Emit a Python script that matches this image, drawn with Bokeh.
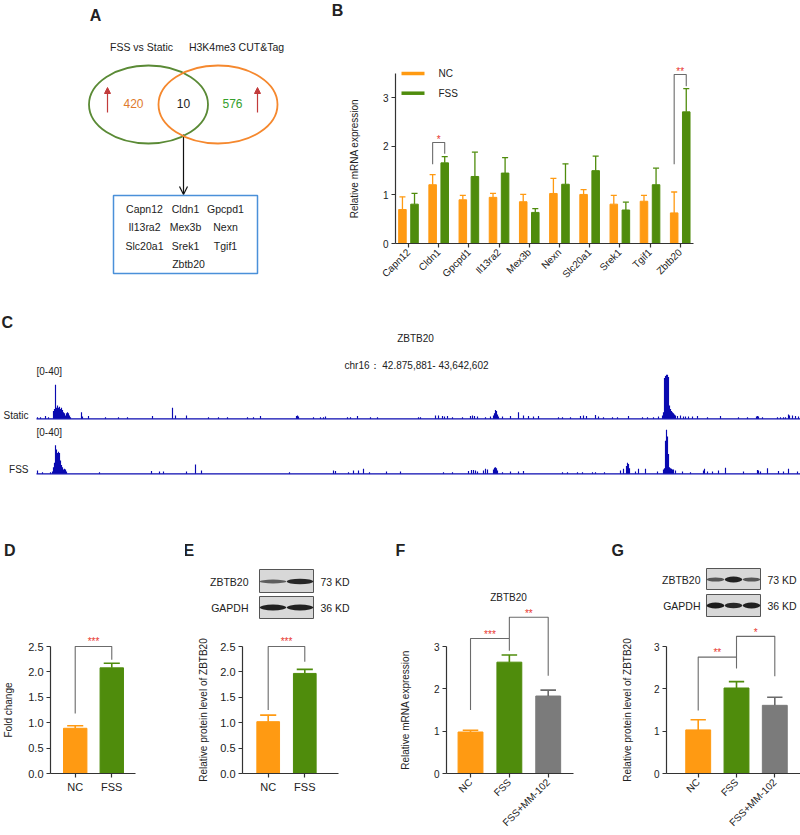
import math
from bokeh.plotting import figure
from bokeh.models import (Range1d, Arrow, NormalHead, OpenHead,
                          FixedTicker, PrintfTickFormatter)
from bokeh.core.properties import value
from bokeh.layouts import row, column
from bokeh.embed import file_html
from bokeh.resources import INLINE

# ---------------- data ----------------
venn_set_names = ["FSS vs Static", "H3K4me3 CUT&Tag"]
venn_counts = [420, 10, 576]            # left only, overlap, right only
overlap_genes = ["Capn12", "Cldn1", "Gpcpd1", "Il13ra2", "Mex3b",
                 "Nexn", "Slc20a1", "Srek1", "Tgif1", "Zbtb20"]

qpcr_genes = ["Capn12", "Cldn1", "Gpcpd1", "Il13ra2", "Mex3b",
              "Nexn", "Slc20a1", "Srek1", "Tgif1", "Zbtb20"]
qpcr_nc_mean = [0.70, 1.21, 0.90, 0.95, 0.86, 1.03, 1.01, 0.81, 0.87, 0.63]
qpcr_nc_sd = [0.26, 0.21, 0.09, 0.08, 0.15, 0.31, 0.10, 0.18, 0.12, 0.43]
qpcr_fss_mean = [0.81, 1.66, 1.38, 1.45, 0.64, 1.22, 1.50, 0.69, 1.21, 2.71]
qpcr_fss_sd = [0.22, 0.13, 0.50, 0.32, 0.08, 0.42, 0.30, 0.16, 0.34, 0.48]
qpcr_sig_genes = ["Cldn1", "Zbtb20"]
qpcr_sig_marks = ["*", "**"]

track_gene = "ZBTB20"
track_locus = "chr16\uff1a 42.875,881- 43,642,602"
track_start = 42875881
track_end = 43642602
track_scale = "[0-40]"
# (offset in kb from region start, signal on the [0-40] scale)
static_peaks = [(1, 1.5), (4, 1.5), (9, 2.5), (12, 1.5), (17, 7), (18, 9), (19, 31), (20, 10),
                (21, 12), (22, 10), (23, 11), (24, 9), (25, 10), (26, 8), (27, 6), (28, 5), (29, 3),
                (30, 5), (31, 6), (32, 5), (33, 3), (34, 1.5), (45, 6), (46, 2), (52, 2.5), (69, 1.5),
                (82, 1.5), (91, 1.5), (116, 2.5), (136, 10), (139, 3), (150, 3), (172, 1.5), (182, 1.5),
                (191, 1.5), (211, 1.5), (217, 1.5), (224, 2.5), (260, 2.5), (261, 3), (262, 2), (277, 1.5),
                (284, 1.5), (287, 1.5), (289, 2), (311, 1.5), (314, 1.5), (321, 2.5), (334, 1.5), (341, 1.5),
                (382, 1.5), (384, 1.5), (399, 3), (402, 3), (406, 2.5), (408, 2), (411, 2.5), (416, 1.5),
                (426, 1.5), (434, 2.5), (436, 3), (438, 2.5), (441, 2), (449, 1.5), (454, 2), (457, 3),
                (458, 5), (459, 8), (460, 7), (461, 4), (462, 2), (466, 2), (474, 2.5), (482, 6), (487, 3),
                (492, 2.5), (497, 2), (502, 2.5), (522, 1.5), (526, 1.5), (534, 1.5), (544, 2.5), (547, 3),
                (550, 2.5), (559, 3.5), (562, 2), (567, 1.5), (576, 1.5), (581, 1.5), (592, 2.5), (606, 1.5),
                (611, 1.5), (617, 1.5), (622, 2), (626, 3), (627, 6), (628, 37), (629, 39), (630, 40),
                (631, 40), (632, 38), (633, 12), (634, 9), (635, 7), (636, 6), (637, 5), (638, 4), (639, 3),
                (641, 2.5), (644, 3), (647, 2), (649, 2), (652, 2), (656, 2), (661, 2.5), (671, 1.5),
                (684, 2.5), (702, 1.5), (711, 1.5), (720, 2), (721, 2.5), (722, 2), (726, 1.5), (741, 1.5),
                (744, 1.5), (747, 1.5), (749, 1.5), (752, 4), (753, 3), (756, 3), (759, 2.5), (762, 2)]
fss_peaks = [(1, 3), (6, 1.5), (14, 1.5), (16, 2), (17, 6), (18, 10), (19, 26), (20, 22), (21, 19),
             (22, 20), (23, 19), (24, 12), (25, 8), (26, 6), (27, 4), (28, 4.5), (29, 4), (30, 2),
             (63, 1.5), (115, 2.5), (123, 2), (127, 2), (150, 2), (159, 8.5), (165, 3), (253, 1.5),
             (297, 3), (299, 2.5), (312, 1.5), (317, 3), (322, 3), (327, 4.5), (333, 1.5), (350, 2),
             (364, 2), (407, 1.5), (416, 1.5), (432, 2.5), (435, 3.5), (437, 3.5), (439, 3), (441, 2),
             (447, 3), (449, 4.5), (451, 4), (457, 4), (458, 5.5), (459, 6), (460, 5), (461, 3),
             (466, 1.5), (474, 2), (482, 2), (487, 2.5), (526, 1.5), (531, 1.5), (541, 1.5), (546, 1.5),
             (556, 1.5), (559, 1.5), (568, 1.5), (584, 3), (587, 4.5), (590, 7), (591, 10), (592, 9),
             (593, 5), (599, 2), (602, 4.5), (609, 4.5), (621, 2), (627, 4), (628, 5), (629, 30),
             (630, 40), (631, 34), (632, 18), (633, 6), (634, 5), (635, 4.5), (636, 4), (637, 4),
             (639, 3), (646, 2), (654, 1.5), (667, 3), (668, 4.5), (671, 2), (676, 2), (682, 3),
             (689, 5.5), (707, 2), (721, 3.5), (722, 3), (724, 2), (731, 5), (742, 2.5), (747, 2),
             (752, 4.5), (761, 2)]

d_groups = ["NC", "FSS"]
d_mean = [0.89, 2.08]
d_sd = [0.05, 0.09]

e_groups = ["NC", "FSS"]
e_mean = [1.02, 1.97]
e_sd = [0.13, 0.08]
e_blot_zbtb20 = [0.45, 0.9]
e_blot_gapdh = [0.95, 0.95]

f_groups = ["NC", "FSS", "FSS+MM-102"]
f_mean = [0.98, 2.63, 1.83]
f_sd = [0.04, 0.17, 0.14]

g_groups = ["NC", "FSS", "FSS+MM-102"]
g_mean = [1.03, 2.02, 1.61]
g_sd = [0.24, 0.15, 0.19]
g_blot_zbtb20 = [0.5, 0.95, 0.5]
g_blot_gapdh = [1.0, 0.9, 0.95]

# ---------------- style ----------------
FONT = "Liberation Sans"
TXT = "#222222"
AX = "#333333"
ORANGE = "#ff9a12"
GREEN = "#4f8c0c"
GRAY = "#7b7b7b"
RED = "#e8362e"
BRK = "#6b6b6b"
TRACK = "#0a0ab0"
VENN_GREEN = "#5a8a35"
VENN_ORANGE = "#f5882e"
ARROW_RED = "#c23b3b"
OV = "overlay"


def new_fig(w, h, l, r, t, b, xr, yr, box, axes=True):
    kw = {} if axes else dict(x_axis_location=None, y_axis_location=None)
    p = figure(width=w, height=h, x_range=xr, y_range=yr,
               min_border_left=l, min_border_right=r, min_border_top=t, min_border_bottom=b,
               output_backend="svg", toolbar_location=None, tools="", **kw)
    p.xgrid.grid_line_color = None
    p.ygrid.grid_line_color = None
    p.outline_line_color = None
    x0, x1, y0, y1 = box
    p.extra_x_ranges = {"px": Range1d(x0, x1)}
    p.extra_y_ranges = {"px": Range1d(y1, y0)}
    return p


def txt(p, x, y, s, size=10.0, align="center", baseline="middle", color=TXT, bold=False, rng="px"):
    kw = dict(x_range_name=rng, y_range_name=rng) if rng else {}
    p.text(x=[x], y=[y], text=[s], text_font=value(FONT), text_font_size=f"{size}px",
           text_align=align, text_baseline=baseline, text_color=color,
           text_font_style="bold" if bold else "normal", level=OV, **kw)


def style_axes(p, tick_font, label_font, label_standoff):
    for ax in p.axis:
        ax.axis_line_color = AX
        ax.axis_line_width = 1.2
        ax.major_tick_line_color = AX
        ax.major_tick_line_width = 1.2
        ax.major_tick_out = 4
        ax.major_tick_in = 0
        ax.minor_tick_line_color = None
        ax.major_label_text_font = FONT
        ax.major_label_text_font_size = f"{tick_font}px"
        ax.major_label_text_color = TXT
        ax.major_label_standoff = 3
        ax.axis_label_text_font = FONT
        ax.axis_label_text_font_size = f"{label_font}px"
        ax.axis_label_text_font_style = "normal"
        ax.axis_label_text_color = TXT
        ax.axis_label_standoff = label_standoff


def errbars(p, xs, means, sds, color, cap, lw):
    tops = [m + s for m, s in zip(means, sds)]
    p.segment(x0=xs, y0=means, x1=xs, y1=tops, line_color=color, line_width=lw)
    p.segment(x0=[x - cap for x in xs], y0=tops, x1=[x + cap for x in xs], y1=tops,
              line_color=color, line_width=lw)


def bracket(p, xa, ya, xb, yb, ytop, mark, mark_y, size=10):
    p.line(x=[xa, xa, xb, xb], y=[ya, ytop, ytop, yb], line_color=BRK, line_width=1.1, level=OV)
    txt(p, (xa + xb) / 2, mark_y, mark, size, color=RED, rng=None)


def bar_panel(p, groups, means, sds, colors, errc, bar_w, cap):
    xs = list(range(len(groups)))
    p.vbar(x=xs, top=means, width=bar_w, bottom=0, fill_color=colors, line_color=colors)
    errbars(p, xs, means, sds, errc, cap, 1.6)
    p.xaxis.ticker = FixedTicker(ticks=xs)
    p.xaxis.major_label_overrides = {x: g for x, g in zip(xs, groups)}


def blot(p, x0, x1, y0, y1, band_y, intens):
    p.quad(left=[x0], right=[x1], top=[y0], bottom=[y1], fill_color="#d8d8d8",
           line_color="#555555", line_width=1, x_range_name="px", y_range_name="px", level=OV)
    n = len(intens)
    lw = (x1 - x0) / n
    xs = [x0 + lw * (i + 0.5) for i in range(n)]
    p.ellipse(x=xs, y=[band_y] * n, width=[lw * 0.98] * n, height=[2.0 + 4.0 * v for v in intens],
              fill_color="#111111", fill_alpha=[0.35 + 0.6 * v for v in intens], line_color=None,
              x_range_name="px", y_range_name="px", level=OV)


# ---------------- panel A (Venn) ----------------
# row 1: y 0..300, plot frames at y 73..243
pa = new_fig(290, 300, 0, 0, 73, 57, Range1d(0, 290), Range1d(243, 73), (0, 290, 73, 243), axes=False)
txt(pa, 95, 15, "A", 16, bold=True)
txt(pa, 141, 46, venn_set_names[0], 10.5)
txt(pa, 236, 46, venn_set_names[1], 10.5)
pa.ellipse(x=[148], y=[104], width=[119], height=[78], fill_color=None,
           line_color=VENN_GREEN, line_width=1.8, level=OV)
pa.ellipse(x=[217.5], y=[104], width=[119], height=[78], fill_color=None,
           line_color=VENN_ORANGE, line_width=1.8, level=OV)
txt(pa, 133, 103, str(venn_counts[0]), 12, color="#e07a2c")
txt(pa, 183, 103, str(venn_counts[1]), 12, color=TXT)
txt(pa, 232, 103, str(venn_counts[2]), 12, color="#35a02c")
for ax_x in (107, 257):
    pa.add_layout(Arrow(end=NormalHead(size=6, fill_color=ARROW_RED, line_color=ARROW_RED),
                        x_start=ax_x, y_start=112, x_end=ax_x, y_end=87,
                        line_color=ARROW_RED, line_width=1.2))
pa.add_layout(Arrow(end=OpenHead(size=8, line_width=1.2, line_color="#111111"),
                    x_start=183, y_start=134, x_end=183, y_end=194,
                    line_color="#111111", line_width=1.2))
pa.quad(left=[113], right=[257], top=[195], bottom=[273], fill_color=None,
        line_color="#4a90d9", line_width=1.5, level=OV)
col_x = [144, 185, 225]
row_y = [208.5, 226.8, 245, 263.3]
for i, g in enumerate(overlap_genes):
    r, c = divmod(i, 3)
    x = col_x[c] if i < 9 else 188
    txt(pa, x, row_y[r], g, 10.5)

# ---------------- panel B (qPCR of 10 genes) ----------------
pb = new_fig(510, 300, 105, 107, 73, 57, Range1d(-0.43, 9.44), Range1d(0, 3.5), (395, 693, 73, 243))
xs = list(range(len(qpcr_genes)))
nc_x = [x - 0.2 for x in xs]
fss_x = [x + 0.2 for x in xs]
pb.vbar(x=nc_x, top=qpcr_nc_mean, width=0.25, fill_color=ORANGE, line_color=ORANGE)
pb.vbar(x=fss_x, top=qpcr_fss_mean, width=0.25, fill_color=GREEN, line_color=GREEN)
errbars(pb, nc_x, qpcr_nc_mean, qpcr_nc_sd, ORANGE, 0.1, 1.3)
errbars(pb, fss_x, qpcr_fss_mean, qpcr_fss_sd, GREEN, 0.1, 1.3)
pb.xaxis.ticker = FixedTicker(ticks=xs)
pb.xaxis.major_label_overrides = {x: g for x, g in zip(xs, qpcr_genes)}
pb.xaxis.major_label_orientation = math.pi / 4
pb.yaxis.ticker = FixedTicker(ticks=[0, 1, 2, 3])
pb.yaxis.axis_label = "Relative mRNA expression"
style_axes(pb, 10, 10, 20)
b_brk = {"Cldn1": (1.63, 1.85, 2.08), "Zbtb20": (1.63, 3.24, 3.48)}
for g, m in zip(qpcr_sig_genes, qpcr_sig_marks):
    i = qpcr_genes.index(g)
    ya, yb, yt = b_brk[g]
    bracket(pb, i - 0.2, ya, i + 0.2, yb, yt, m, yt + 0.06, 10)
txt(pb, 337, 10, "B", 16, bold=True)
pb.segment(x0=[401, 401], y0=[73, 92.7], x1=[424, 424], y1=[73, 92.7],
           line_color=[ORANGE, GREEN], line_width=3.5, x_range_name="px", y_range_name="px",
           level=OV)
txt(pb, 438, 73, "NC", 10, align="left")
txt(pb, 438, 93, "FSS", 10, align="left")

# ---------------- panel C (CUT&Tag tracks) ----------------
KB = 1000
x_lo = track_start - 36 * KB
x_hi = track_start + 764 * KB
U = 1.1  # px per signal unit
pc = new_fig(800, 200, 0, 0, 0, 0, Range1d(x_lo, x_hi),
             Range1d(-(500 - 418.3) / U, (418.3 - 300) / U), (0, 800, 300, 500), axes=False)
pc.extra_y_ranges = {"px": Range1d(500, 300),
                     "fss": Range1d(-(500 - 473.3) / U, (473.3 - 300) / U)}
s_kb, s_h = zip(*static_peaks)
f_kb, f_h = zip(*fss_peaks)
pc.segment(x0=[track_start], y0=[0], x1=[track_end], y1=[0], line_color=TRACK, line_width=1.2)
pc.vbar(x=[track_start + k * KB for k in s_kb], top=list(s_h), bottom=0, width=1.15 * KB,
        fill_color=TRACK, line_color=None)
pc.segment(x0=[track_start], y0=[0], x1=[track_end], y1=[0], line_color=TRACK, line_width=1.2,
           y_range_name="fss")
pc.vbar(x=[track_start + k * KB for k in f_kb], top=list(f_h), bottom=0, width=1.15 * KB,
        fill_color=TRACK, line_color=None, y_range_name="fss")
txt(pc, 1, 322, "C", 16, align="left", bold=True)
txt(pc, 415, 338, track_gene, 10)
txt(pc, 416, 365, track_locus, 10)
txt(pc, 36, 371, track_scale, 10, align="left")
txt(pc, 36, 432, track_scale, 10, align="left")
txt(pc, 28, 415, "Static", 10, align="right")
txt(pc, 28, 469, "FSS", 10, align="right")

# ---------------- row 3: y 500..835, plot frames at y 646..773 ----------------
TOP3, BOT3, H3 = 146, 62, 335

# panel D
pd_ = new_fig(185, H3, 49, 50, TOP3, BOT3, Range1d(-0.676, 1.649), Range1d(0, 2.5), (49, 135, 646, 773))
bar_panel(pd_, d_groups, d_mean, d_sd, [ORANGE, GREEN], [ORANGE, GREEN], 0.64, 0.22)
pd_.yaxis.ticker = FixedTicker(ticks=[0, 0.5, 1, 1.5, 2, 2.5])
pd_.yaxis.formatter = PrintfTickFormatter(format="%.1f")
pd_.yaxis.axis_label = "Fold change"
style_axes(pd_, 11, 10, 11)
bracket(pd_, 0, 1.18, 1, 2.24, 2.5, "***", 2.6)
txt(pd_, 2, 550, "D", 16, align="left", bold=True)

# panel E
pe = new_fig(210, H3, 57, 57, TOP3, BOT3, Range1d(-0.702, 1.921), Range1d(0, 2.5), (242, 338, 646, 773))
bar_panel(pe, e_groups, e_mean, e_sd, [ORANGE, GREEN], [ORANGE, GREEN], 0.62, 0.22)
pe.yaxis.ticker = FixedTicker(ticks=[0, 0.5, 1, 1.5, 2, 2.5])
pe.yaxis.formatter = PrintfTickFormatter(format="%.1f")
pe.yaxis.axis_label = "Relative protein level of ZBTB20"
style_axes(pe, 11, 10, 8)
bracket(pe, 0, 1.25, 1, 2.2, 2.5, "***", 2.6)
txt(pe, 183, 550, "E", 16, align="left", bold=True)
blot(pe, 259, 313, 569, 592, 581, e_blot_zbtb20)
blot(pe, 259, 313, 596, 618, 607, e_blot_gapdh)
txt(pe, 248, 581, "ZBTB20", 10.5, align="right")
txt(pe, 248, 607, "GAPDH", 10.5, align="right")
txt(pe, 320, 581, "73 KD", 10.5, align="left")
txt(pe, 320, 607, "36 KD", 10.5, align="left")

# panel F
pf = new_fig(205, H3, 51, 27, TOP3, BOT3, Range1d(-0.618, 2.651), Range1d(0, 3), (446, 573, 646, 773))
bar_panel(pf, f_groups, f_mean, f_sd, [ORANGE, GREEN, GRAY], [ORANGE, GREEN, "#6a6a6a"], 0.64, 0.2)
pf.yaxis.ticker = FixedTicker(ticks=[0, 1, 2, 3])
pf.xaxis.major_label_orientation = math.pi / 4
pf.yaxis.axis_label = "Relative mRNA expression"
style_axes(pf, 10, 10, 20)
bracket(pf, 0, 1.5, 1, 2.9, 3.19, "***", 3.28)
bracket(pf, 1, 3.19, 2, 2.31, 3.69, "**", 3.78)
txt(pf, 395, 550, "F", 16, align="left", bold=True)
txt(pf, 508, 597, "ZBTB20", 10)

# panel G
pg = new_fig(200, H3, 66, 0, TOP3, BOT3, Range1d(-0.828, 2.671), Range1d(0, 3), (666, 800, 646, 773))
bar_panel(pg, g_groups, g_mean, g_sd, [ORANGE, GREEN, GRAY], [ORANGE, GREEN, "#6a6a6a"], 0.65, 0.2)
pg.yaxis.ticker = FixedTicker(ticks=[0, 1, 2, 3])
pg.xaxis.major_label_orientation = math.pi / 4
pg.yaxis.axis_label = "Relative protein level of ZBTB20"
style_axes(pg, 10, 10, 18)
bracket(pg, 0, 1.49, 1, 2.48, 2.75, "**", 2.86)
bracket(pg, 1, 2.75, 2, 2.3, 3.24, "*", 3.32)
txt(pg, 611, 550, "G", 16, align="left", bold=True)
blot(pg, 706, 760, 568, 589, 579, g_blot_zbtb20)
blot(pg, 706, 760, 594, 616, 605, g_blot_gapdh)
txt(pg, 700, 579, "ZBTB20", 10.5, align="right")
txt(pg, 700, 605, "GAPDH", 10.5, align="right")
txt(pg, 767, 579, "73 KD", 10.5, align="left")
txt(pg, 767, 605, "36 KD", 10.5, align="left")

layout = column(row(pa, pb), pc, row(pd_, pe, pf, pg))
open("out.html", "w").write(file_html(layout, INLINE, "Figure"))
